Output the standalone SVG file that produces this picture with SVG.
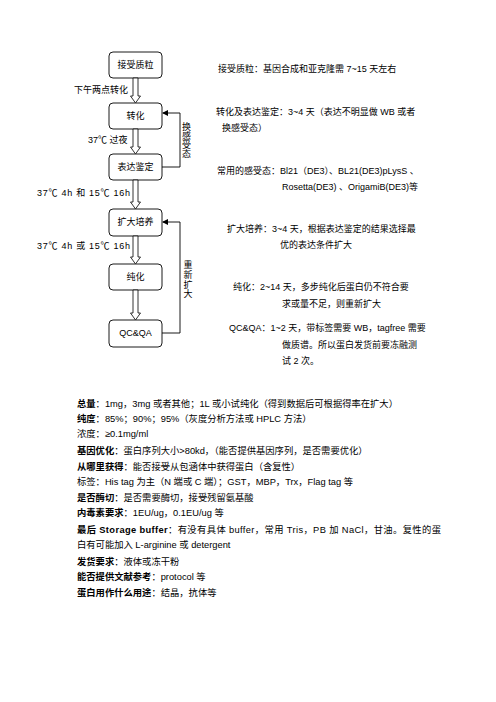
<svg xmlns="http://www.w3.org/2000/svg" width="496" height="702" viewBox="0 0 496 702">
<style>
text{font-family:"Liberation Sans","Noto Sans CJK SC",sans-serif;font-size:9px;fill:#000}
.b{font-weight:bold}
.box{fill:#fff;stroke:#000;stroke-width:0.9}
.blk{fill:#fff;stroke:#000;stroke-width:0.8}
.ln{fill:none;stroke:#000;stroke-width:0.9}
.bt{font-size:9.3px}
</style>
<defs>
<marker id="ah" markerWidth="6" markerHeight="6" refX="5" refY="3" orient="auto" markerUnits="userSpaceOnUse">
<path d="M0,0 L6,3 L0,6 Z" fill="#000"/>
</marker>
</defs>
<rect width="496" height="702" fill="#fff"/>

<g id="n1"><rect class="box" x="109" y="52" width="53" height="26" rx="4"/><text x="135.5" y="68" text-anchor="middle">接受质粒</text></g>
<g id="n2"><rect class="box" x="109" y="103" width="53" height="26" rx="4"/><text x="135.5" y="119" text-anchor="middle">转化</text></g>
<g id="n3"><rect class="box" x="109" y="154" width="53" height="26" rx="4"/><text x="135.5" y="170" text-anchor="middle">表达鉴定</text></g>
<g id="n4"><rect class="box" x="109" y="209" width="53" height="27" rx="4"/><text x="135.5" y="225" text-anchor="middle">扩大培养</text></g>
<g id="n5"><rect class="box" x="109" y="264" width="53" height="26" rx="4"/><text x="135.5" y="280" text-anchor="middle">纯化</text></g>
<g id="n6"><rect class="box" x="109" y="320" width="53" height="27" rx="4"/><text x="135.5" y="336" text-anchor="middle">QC&amp;QA</text></g>

<g id="connectors">
<polygon class="blk" points="133,78 138,78 138,96 140.5,96 135.5,103 130.5,96 133,96"/>
<polygon class="blk" points="133,129 138,129 138,147 140.5,147 135.5,154 130.5,147 133,147"/>
<polygon class="blk" points="133,180 138,180 138,202 140.5,202 135.5,209 130.5,202 133,202"/>
<polygon class="blk" points="133,236 138,236 138,257 140.5,257 135.5,264 130.5,257 133,257"/>
<polygon class="blk" points="133,290 138,290 138,313 140.5,313 135.5,320 130.5,313 133,313"/>
<path class="ln" d="M162,167 H180 V113 H163" marker-end="url(#ah)"/>
<path class="ln" d="M162,333 H180 V222 H163" marker-end="url(#ah)"/>
</g>

<g id="edge-labels">
<text x="74" y="93">下午两点转化</text>
<text x="88" y="143">37℃ 过夜</text>
<text x="37" y="196" textLength="93" lengthAdjust="spacing">37℃ 4h 和 15℃ 16h</text>
<text x="37" y="249" textLength="93" lengthAdjust="spacing">37℃ 4h 或 15℃ 16h</text>
<text x="186.5" y="130" text-anchor="middle">换</text>
<text x="186.5" y="139" text-anchor="middle">感</text>
<text x="186.5" y="148" text-anchor="middle">受</text>
<text x="186.5" y="157" text-anchor="middle">态</text>
<text x="188" y="268" text-anchor="middle">重</text>
<text x="188" y="278" text-anchor="middle">新</text>
<text x="188" y="288" text-anchor="middle">扩</text>
<text x="188" y="297" text-anchor="middle">大</text>
</g>

<g id="notes">
<text x="218" y="72">接受质粒：基因合成和亚克隆需 7~15 天左右</text>
<text x="216" y="115">转化及表达鉴定：3~4 天（表达不明显做 WB 或者</text>
<text x="222" y="131">换感受态）</text>
<text x="217" y="174">常用的感受态：Bl21（DE3）、BL21(DE3)pLysS 、</text>
<text x="282" y="190">Rosetta(DE3) 、OrigamiB(DE3)等</text>
<text x="227" y="232">扩大培养：3~4 天，根据表达鉴定的结果选择最</text>
<text x="280" y="248">优的表达条件扩大</text>
<text x="233" y="290">纯化：2~14 天，多步纯化后蛋白仍不符合要</text>
<text x="282" y="307">求或量不足，则重新扩大</text>
<text x="229" y="331">QC&amp;QA：1~2 天，带标签需要 WB，tagfree 需要</text>
<text x="282" y="348">做质谱。所以蛋白发货前要冻融测</text>
<text x="282" y="364">试 2 次。</text>
</g>

<g id="requirements" class="bt">
<text x="77" y="407" class="bt"><tspan class="b">总量</tspan>：1mg，3mg 或者其他；1L 或小试纯化（得到数据后可根据得率在扩大）</text>
<text x="77" y="422" class="bt"><tspan class="b">纯度</tspan>：85%；90%；95%（灰度分析方法或 HPLC 方法）</text>
<text x="77" y="437" class="bt">浓度：≥0.1mg/ml</text>
<text x="77" y="454" class="bt"><tspan class="b">基因优化</tspan>：蛋白序列大小&gt;80kd，（能否提供基因序列，是否需要优化）</text>
<text x="77" y="470" class="bt"><tspan class="b">从哪里获得</tspan>：能否接受从包涵体中获得蛋白（含复性）</text>
<text x="77" y="485" class="bt">标签：His tag 为主（N 端或 C 端）；GST，MBP，Trx，Flag tag 等</text>
<text x="77" y="501" class="bt"><tspan class="b">是否酶切</tspan>：是否需要酶切，接受残留氨基酸</text>
<text x="77" y="516" class="bt"><tspan class="b">内毒素要求</tspan>：1EU/ug，0.1EU/ug 等</text>
<text x="77" y="533" class="bt" textLength="364" lengthAdjust="spacing"><tspan class="b">最后 Storage buffer</tspan>：有没有具体 buffer，常用 Tris，PB 加 NaCl，甘油。复性的蛋</text>
<text x="77" y="548" class="bt">白有可能加入 L-arginine 或 detergent</text>
<text x="77" y="565" class="bt"><tspan class="b">发货要求</tspan>：液体或冻干粉</text>
<text x="77" y="580" class="bt"><tspan class="b">能否提供文献参考</tspan>：protocol 等</text>
<text x="77" y="596" class="bt"><tspan class="b">蛋白用作什么用途</tspan>：结晶，抗体等</text>
</g>
</svg>
